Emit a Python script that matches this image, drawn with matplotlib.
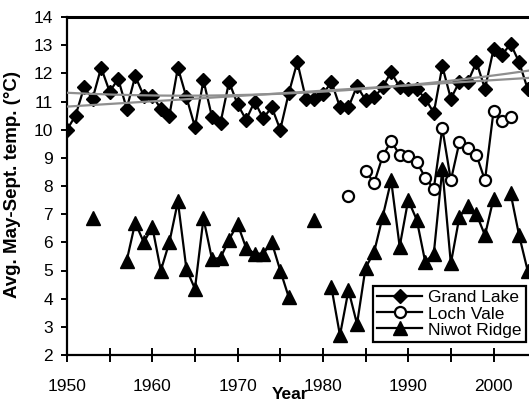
"""Temperaturas medias de mayo a septiembre en tres estaciones de Colorado."""
import matplotlib

matplotlib.use("Agg")
import matplotlib.pyplot as plt
import numpy as np

plt.rcParams["font.family"] = ["Liberation Sans", "DejaVu Sans"]

nan = np.nan

years = list(range(1950, 2005))

grand_lake = [
    10.0, 10.5, 11.5, 11.1, 12.2, 11.35, 11.8, 10.75, 11.9, 11.2,  # 1950-59
    11.2, 10.75, 10.5, 12.2, 11.15, 10.1, 11.75, 10.45, 10.25, 11.7,  # 1960-69
    10.9, 10.35, 11.0, 10.4, 10.8, 10.0, 11.3, 12.4, 11.1, 11.1,  # 1970-79
    11.25, 11.7, 10.8, 10.8, 11.55, 11.05, 11.15, 11.5, 12.05, 11.5,  # 1980-89
    11.45, 11.45, 11.1, 10.6, 12.25, 11.1, 11.7, 11.7, 12.4, 11.45,  # 1990-99
    12.85, 12.65, 13.05, 12.4, 11.45,  # 2000-04
]

loch_vale = [
    nan, nan, nan, nan, nan, nan, nan, nan, nan, nan,
    nan, nan, nan, nan, nan, nan, nan, nan, nan, nan,
    nan, nan, nan, nan, nan, nan, nan, nan, nan, nan,
    nan, nan, nan, 7.65, nan, 8.55, 8.1, 9.05, 9.6, 9.1,
    9.05, 8.85, 8.3, 7.9, 10.05, 8.2, 9.55, 9.35, 9.1, 8.2,
    10.65, 10.3, 10.45, nan, nan,
]

niwot_ridge = [
    nan, nan, nan, 6.85, nan, nan, nan, 5.35, 6.7, 6.0,
    6.55, 5.0, 6.0, 7.45, 5.05, 4.35, 6.85, 5.4, 5.45, 6.1,
    6.65, 5.8, 5.6, 5.6, 6.0, 5.0, 4.05, nan, nan, 6.8,
    nan, 4.4, 2.7, 4.3, 3.1, 5.1, 5.65, 6.9, 8.2, 5.85,
    7.5, 6.8, 5.3, 5.6, 8.6, 5.25, 6.9, 7.3, 7.0, 6.25,
    7.55, nan, 7.75, 6.25, 5.0,
]

series_labels = ["Grand Lake", "Loch Vale", "Niwot Ridge"]

# líneas de tendencia grises (años, valor)
trend_lin_years = [1950, 1977.3, 2004.2]
trend_lin_values = [10.83, 11.31, 11.85]
trend_quad_years = [1950, 1972.6, 1985.4, 2004.2]
trend_quad_values = [11.31, 11.25, 11.46, 12.1]

# geometría en píxeles de la figura de referencia (529x400)
W, H = 529, 400
X0_PX, X_PER_YEAR = 67, 8.53
Y_TOP_PX, Y_BOT_PX = 17, 355
X_MIN, X_MAX = 1950, 2010


def main() -> None:
    fig = plt.figure(figsize=(W / 100, H / 100), dpi=100)
    width = (X_MAX - X_MIN) * X_PER_YEAR / W
    ax = fig.add_axes([X0_PX / W, 1 - Y_BOT_PX / H, width, (Y_BOT_PX - Y_TOP_PX) / H])

    yrs = np.array(years, dtype=float)
    line_kw = dict(color="black", linewidth=1.6, markeredgecolor="black")

    ax.plot(yrs, grand_lake, marker="D", markersize=7.3, markerfacecolor="black",
            label=series_labels[0], **line_kw)
    ax.plot(yrs, loch_vale, marker="o", markersize=8, markerfacecolor="white",
            markeredgewidth=1.6, label=series_labels[1], **line_kw)
    ax.plot(yrs, niwot_ridge, marker="^", markersize=9.5, markerfacecolor="black",
            label=series_labels[2], **line_kw)

    # tendencias de Grand Lake (recta y curva suave)
    xs = np.linspace(X_MIN, X_MAX, 200)
    for ty, tv, deg in ((trend_lin_years, trend_lin_values, 1),
                        (trend_quad_years, trend_quad_values, 2)):
        coef = np.polyfit(np.array(ty) - 1950, tv, deg)
        ax.plot(xs, np.polyval(coef, xs - 1950), color="#8f8f8f", linewidth=1.6, zorder=5)

    ax.set_xlim(X_MIN, X_MAX)
    ax.set_ylim(2, 14)
    ax.set_xticks(range(1950, 2011, 10))
    ax.set_xticks(range(1955, 2010, 10), minor=True)
    ax.set_yticks(range(2, 15))

    for side in ("left", "bottom"):
        ax.spines[side].set_linewidth(1.6)
    ax.spines["top"].set_linewidth(2.2)
    ax.spines["right"].set_visible(False)

    ax.tick_params(axis="x", which="both", direction="inout", length=10, width=1.4,
                   labelsize=12.5, pad=12)
    ax.tick_params(axis="y", direction="out", length=4, width=1.4, labelsize=12.5, pad=6)

    fig.text(13 / W, 1 - 184 / H, "Avg. May-Sept. temp. (°C)", rotation=90,
             ha="center", va="center", fontsize=13.5, fontweight="bold")
    fig.text(290 / W, 1 - 387 / H, "Year", ha="center", va="top",
             fontsize=12.5, fontweight="bold")

    leg = ax.legend(loc="upper left", bbox_to_anchor=(373 / W, 1 - 286 / H),
                    bbox_transform=fig.transFigure, fontsize=12.5, frameon=True,
                    fancybox=False, framealpha=1, edgecolor="black",
                    handlelength=2.6, handletextpad=0.3, labelspacing=0.05,
                    borderpad=0.25, borderaxespad=0)
    leg.get_frame().set_linewidth(1.6)

    fig.savefig("out.png", dpi=100)
    plt.close(fig)


if __name__ == "__main__":
    main()
